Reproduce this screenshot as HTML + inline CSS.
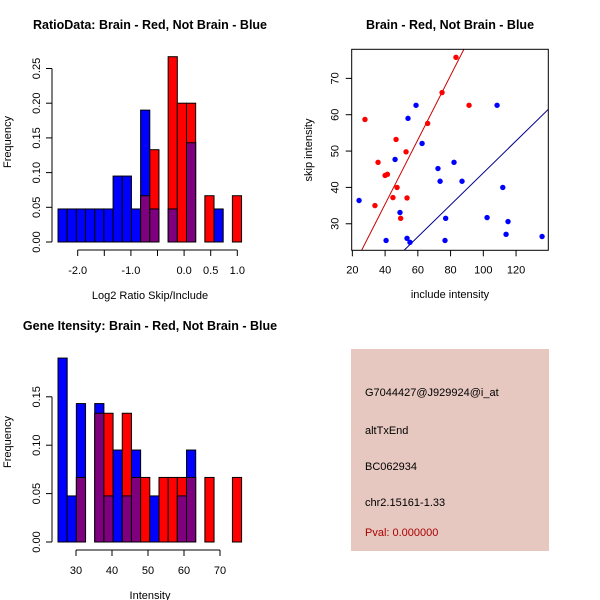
<!DOCTYPE html>
<html><head><meta charset="utf-8"><style>
body{margin:0;background:#fff;}
svg{display:block;font-family:"Liberation Sans",sans-serif;}
</style></head><body>
<svg id="c" width="600" height="600">
<rect x="0" y="0" width="600" height="600" fill="#fff"/>
</svg>
<script>
// ---- Ratio histogram data ----
const ratioBinStart = -2.37;
const ratioBinWidth = 0.1725;
const ratioBlue = [0.0476,0.0476,0.0476,0.0476,0.0476,0.0476,0.095,0.095,0.0476,0.19,0.0476,0,0.0476,0,0.143,0,0,0.0476,0,0];
const ratioRed  = [0,0,0,0,0,0,0,0,0,0.0667,0.133,0,0.267,0.2,0.2,0,0.0667,0,0,0.0667];
const ratioXTicks = [-2.0,-1.5,-1.0,-0.5,0.0,0.5,1.0];
const ratioXLabels = ["-2.0","","-1.0","","0.0","0.5","1.0"];
const ratioYTicks = [0,0.05,0.10,0.15,0.20,0.25];
const ratioYLabels = ["0.00","0.05","0.10","0.15","0.20","0.25"];
// ---- Intensity histogram data ----
const intBinStart = 25;
const intBinWidth = 2.55;
const intBlue = [0.19,0.0476,0.143,0,0.143,0.0476,0.095,0.0476,0.095,0,0.0476,0,0,0.0476,0.095,0,0,0,0,0];
const intRed  = [0,0,0.0667,0,0.133,0.133,0,0.133,0.0667,0.0667,0,0.0667,0.0667,0.0667,0.0667,0,0.0667,0,0,0.0667];
const intXTicks = [30,40,50,60,70];
const intYTicks = [0,0.05,0.10,0.15];
const intYLabels = ["0.00","0.05","0.10","0.15"];
// ---- Scatter data ----
const redX = [27.7,83.3,74.8,91.3,66,46.7,52.8,35.7,40,41.4,47.3,44.8,53.4,33.8,49.5];
const redY = [58.7,75.8,66.1,62.6,57.6,53.2,49.8,46.9,43.3,43.6,40,37.2,37.1,35,31.5];
const blueX = [24.1,40.6,49.1,46.1,54,58.9,62.6,53.4,55.2,72.3,73.6,82.1,87,77,76.6,108.4,102.3,111.9,115.1,113.9,135.9];
const blueY = [36.4,25.4,33.1,47.7,59,62.6,52.1,26,24.9,45.2,41.7,46.9,41.7,31.5,25.4,62.6,31.7,40,30.6,27.1,26.5];
const redSlope = 0.885;
const blueSlope = 0.44;
const scXTicks = [20,40,60,80,100,120];
const scYTicks = [30,40,50,60,70];

const svg = document.getElementById('c');
const NS = 'http://www.w3.org/2000/svg';
function mk(tag, attrs, parent){
  const e = document.createElementNS(NS, tag);
  for (const k in attrs) e.setAttribute(k, attrs[k]);
  (parent||svg).appendChild(e);
  return e;
}
function txt(x,y,s,size,opts){
  const t = mk('text',Object.assign({x:x,y:y,'font-size':size,fill:'#000','text-anchor':'middle'},opts||{}));
  t.textContent = s;
  return t;
}

function histogram(name, blue, red, binStart, binWidth, xRef, xRefPx, pxPerX, y0px, pxPerY, xTicks, xLabels, yTicks, yLabels, xTitle, title, titleY){
  const g = mk('g',{});
  
  
  const X = v => xRefPx + (v - xRef) * pxPerX;
  const Y = v => y0px - v * pxPerY;
  for (let i=0;i<blue.length;i++){
    const a = X(binStart + i*binWidth), b = X(binStart + (i+1)*binWidth);
    const bv = blue[i], rv = red[i];
    const hi = Math.max(bv,rv), lo = Math.min(bv,rv);
    if (hi>0){
      const r = mk('rect',{x:a,y:Y(hi),width:b-a,height:Y(0)-Y(hi),fill: bv>=rv?'#0000ff':'#ff0000',stroke:'#000','stroke-width':1},g);
      
      
    }
    if (lo>0){
      const r2 = mk('rect',{x:a,y:Y(lo),width:b-a,height:Y(0)-Y(lo),fill:'#7f007f',stroke:'#000','stroke-width':1},g);
      
      
    }
  }
  const yax = mk('g',{},g);
  
  
  mk('line',{x1:52,x2:52,y1:Y(yTicks[0]),y2:Y(yTicks[yTicks.length-1]),stroke:'#000'},yax);
  yTicks.forEach((v,i)=>{
    mk('line',{x1:46,x2:52,y1:Y(v),y2:Y(v),stroke:'#000'},yax);
    txt(40,Y(v),yLabels[i],11,{transform:`rotate(-90 40 ${Y(v)})`});
  });
  const xax = mk('g',{},g);
  
  
  const axy = y0px + 8;
  mk('line',{x1:X(xTicks[0]),x2:X(xTicks[xTicks.length-1]),y1:axy,y2:axy,stroke:'#000'},xax);
  xTicks.forEach((v,i)=>{
    mk('line',{x1:X(v),x2:X(v),y1:axy,y2:axy+6,stroke:'#000'},xax);
    if (xLabels[i]) txt(X(v),axy+24,xLabels[i],11);
  });
  const xt = txt(150,y0px+57,xTitle,11);
  
  
  const yt = txt(11,y0px-100,'Frequency',11,{transform:`rotate(-90 11 ${y0px-100})`});
  
  
  const tt = txt(150,titleY,title,12.5,{'font-weight':'bold'});
  
  
}

histogram('ratio-histogram', ratioBlue, ratioRed, ratioBinStart, ratioBinWidth, -2.0, 77.7, 53.2, 242, 694,
  ratioXTicks, ratioXLabels, ratioYTicks, ratioYLabels, 'Log2 Ratio Skip/Include', 'RatioData: Brain - Red, Not Brain - Blue', 29);
histogram('intensity-histogram', intBlue, intRed, intBinStart, intBinWidth, 30, 76, 3.6, 542, 968,
  intXTicks, intXTicks.map(String), intYTicks, intYLabels, 'Intensity', 'Gene Itensity: Brain - Red, Not Brain - Blue', 330);

(function(){
  const g = mk('g',{});
  
  
  const L=351.7,R=548.3,T=49.3,B=250.3, xmin=19.6, xmax=139.7, ymin=22.7, ymax=78;
  const X = v => L + (v-xmin)/(xmax-xmin)*(R-L);
  const Y = v => B - (v-ymin)/(ymax-ymin)*(B-T);
  const cp = mk('clipPath',{id:'sc'},g);
  mk('rect',{x:L,y:T,width:R-L,height:B-T},cp);
  function abline(s,col,nm){
    const l = mk('line',{x1:X(xmin),y1:Y(s*xmin),x2:X(xmax),y2:Y(s*xmax),stroke:col,'stroke-width':1,'clip-path':'url(#sc)'},g);
    
    
  }
  abline(redSlope,'#cc0000','red-fit-line');
  abline(blueSlope,'#00008b','blue-fit-line');
  redX.forEach((v,i)=>{
    const c = mk('circle',{cx:X(v),cy:Y(redY[i]),r:2.7,fill:'#ff0000'},g);
    
    
  });
  blueX.forEach((v,i)=>{
    const c = mk('circle',{cx:X(v),cy:Y(blueY[i]),r:2.7,fill:'#0000ff'},g);
    
    
  });
  mk('rect',{x:L,y:T,width:R-L,height:B-T,fill:'none',stroke:'#000'},g);
  scXTicks.forEach(v=>{
    mk('line',{x1:X(v),x2:X(v),y1:B,y2:B+6,stroke:'#000'},g);
    txt(X(v),B+23,String(v),11);
  });
  scYTicks.forEach(v=>{
    mk('line',{x1:L-6,x2:L,y1:Y(v),y2:Y(v),stroke:'#000'},g);
    txt(L-13,Y(v),String(v),11,{transform:`rotate(-90 ${L-13} ${Y(v)})`});
  });
  const xt = txt(450,298,'include intensity',11);
  
  
  const yt = txt(312,150,'skip intensity',11,{transform:'rotate(-90 312 150)'});
  
  
  const tt = txt(450,29,'Brain - Red, Not Brain - Blue',12.5,{'font-weight':'bold'});
  
  
})();

(function(){
  const g = mk('g',{});
  
  
  mk('rect',{x:351,y:349,width:198,height:202,fill:'#e6c8c0'},g);
  const lines = [['G7044427@J929924@i_at',396,'#000','probe-id'],['altTxEnd',434,'#000','event-type'],['BC062934',470,'#000','accession'],['chr2.15161-1.33',506,'#000','location'],['Pval: 0.000000',536,'#aa0000','p-value']];
  lines.forEach(l=>{
    const t = txt(365,l[1],l[0],11,{'text-anchor':'start',fill:l[2]});
    
    
  });
})();
</script>
</body></html>
